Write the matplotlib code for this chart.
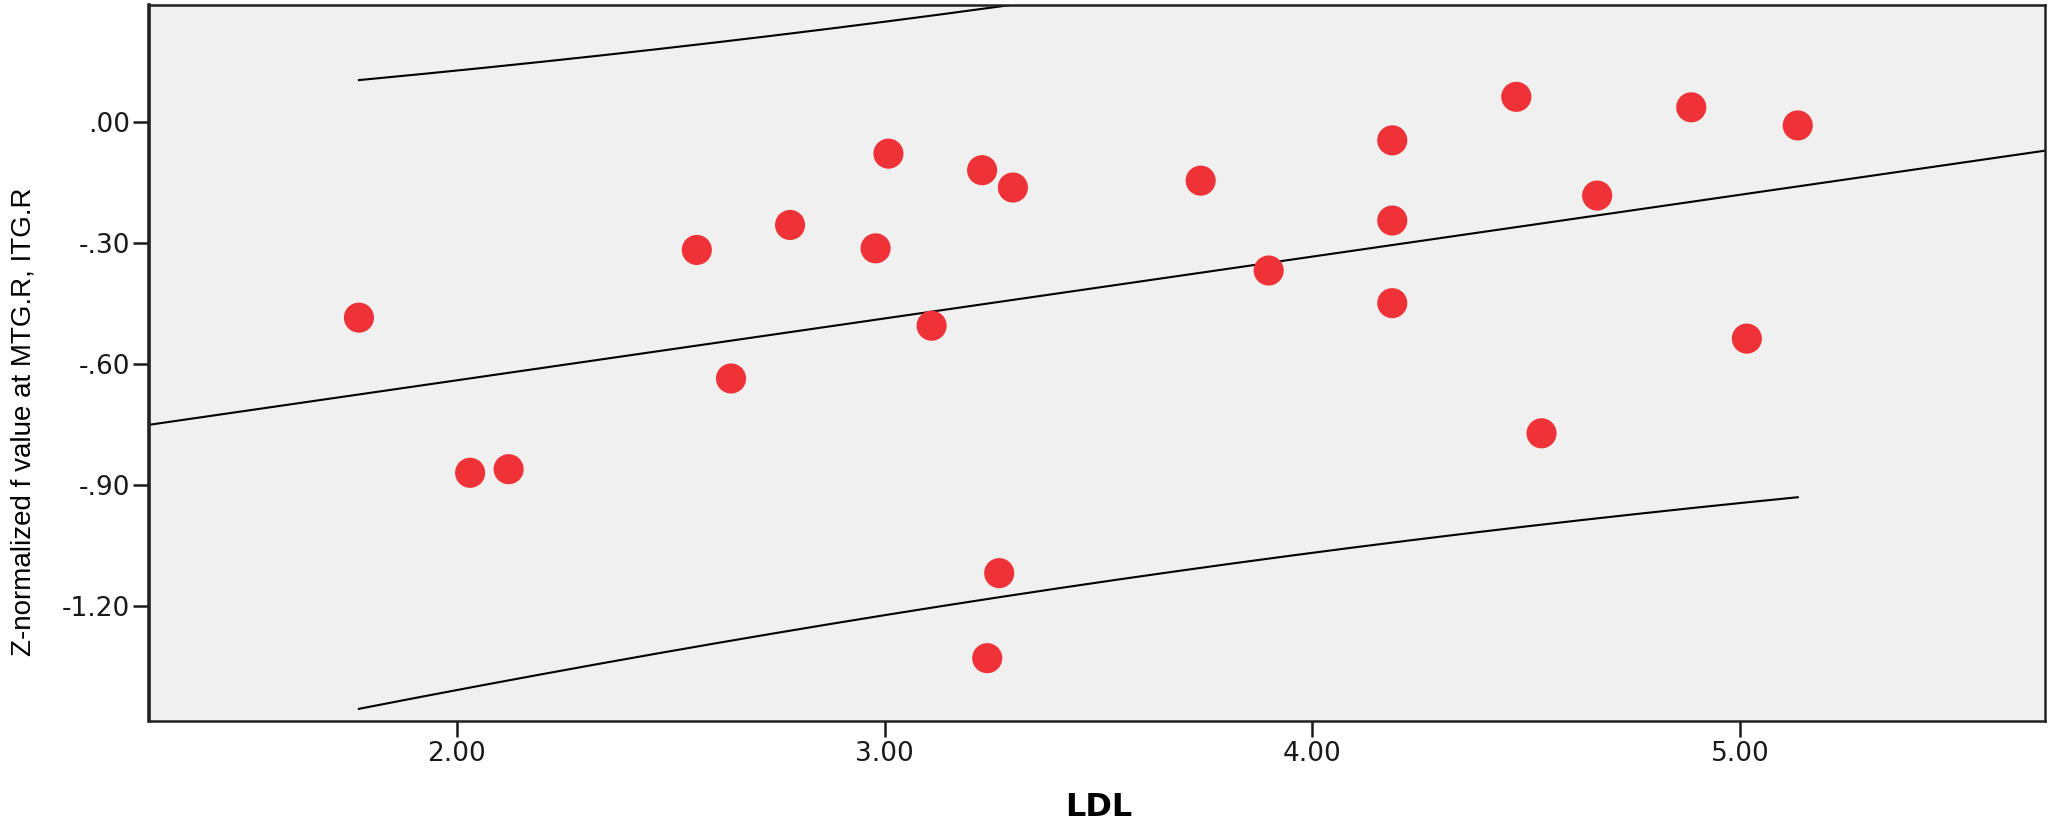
import numpy as np
import matplotlib
matplotlib.use("Agg")
import matplotlib.pyplot as plt
from matplotlib.ticker import FuncFormatter

# LDL vs Z-normalized f value
ldl = [1.771, 2.031, 2.121, 2.561, 2.641, 2.779, 2.979, 3.009, 3.110, 3.228,
       3.300, 3.268, 3.240, 3.739, 3.898, 4.187, 4.187, 4.187, 4.477, 4.536,
       4.666, 4.886, 5.016, 5.135]
zf = [-0.485, -0.870, -0.861, -0.317, -0.636, -0.255, -0.313, -0.078, -0.505, -0.119,
      -0.162, -1.119, -1.330, -0.145, -0.368, -0.045, -0.244, -0.449, 0.063, -0.772,
      -0.182, 0.037, -0.537, -0.008]

x_ticks = [2.0, 3.0, 4.0, 5.0]
y_ticks = [0.0, -0.3, -0.6, -0.9, -1.2]
x_lim = (1.28, 5.713)
y_lim = (-1.486, 0.291)
t_crit = 2.074  # t(0.975, df=22)

x = np.asarray(ldl, dtype=float)
y = np.asarray(zf, dtype=float)
n = x.size

# linear fit + 95% prediction interval for individuals
slope, intercept = np.polyfit(x, y, 1)
resid = y - (slope * x + intercept)
s = np.sqrt(np.sum(resid ** 2) / (n - 2))
sxx = np.sum((x - x.mean()) ** 2)

xs = np.linspace(x.min(), x.max(), 200)
half = t_crit * s * np.sqrt(1 + 1 / n + (xs - x.mean()) ** 2 / sxx)
fit_x = np.array(x_lim)

fig = plt.figure(figsize=(20.54, 8.26), dpi=100)
ax = fig.add_axes([0.0725, 0.1271, 0.9231, 0.8669])
ax.set_facecolor("#f0f0f0")

ax.plot(fit_x, slope * fit_x + intercept, color="black", linewidth=1.5, zorder=2)
ax.plot(xs, slope * xs + intercept + half, color="black", linewidth=1.5, zorder=2)
ax.plot(xs, slope * xs + intercept - half, color="black", linewidth=1.5, zorder=2)
ax.scatter(x, y, s=470, color="#ee3237", edgecolors="none", zorder=3)

ax.set_xlim(*x_lim)
ax.set_ylim(*y_lim)
ax.set_xticks(x_ticks)
ax.set_yticks(y_ticks)


def strip_zero(v, pos):
    txt = "%.2f" % v
    if txt.startswith("-0"):
        return "-" + txt[2:]
    if txt.startswith("0"):
        return txt[1:]
    return txt


ax.yaxis.set_major_formatter(FuncFormatter(strip_zero))
ax.xaxis.set_major_formatter(FuncFormatter(lambda v, p: "%.2f" % v))
ax.tick_params(direction="out", length=11.5, width=1.8, labelsize=19, colors="#1a1a1a")
ax.tick_params(axis="y", pad=2)
ax.tick_params(axis="x", pad=3)

for side in ["right", "top", "bottom"]:
    ax.spines[side].set_linewidth(1.8)
    ax.spines[side].set_color("#222222")
ax.spines["left"].set_linewidth(2.6)
ax.spines["left"].set_color("#222222")

ax.set_xlabel("LDL", fontsize=23, fontweight="bold")
ax.xaxis.set_label_coords(0.501, -0.099)
ax.set_ylabel("Z-normalized f value at MTG.R, ITG.R", fontsize=20,
              family="Liberation Sans")
ax.yaxis.set_label_coords(-0.0595, 0.418)

fig.savefig("out.png", dpi=100)
